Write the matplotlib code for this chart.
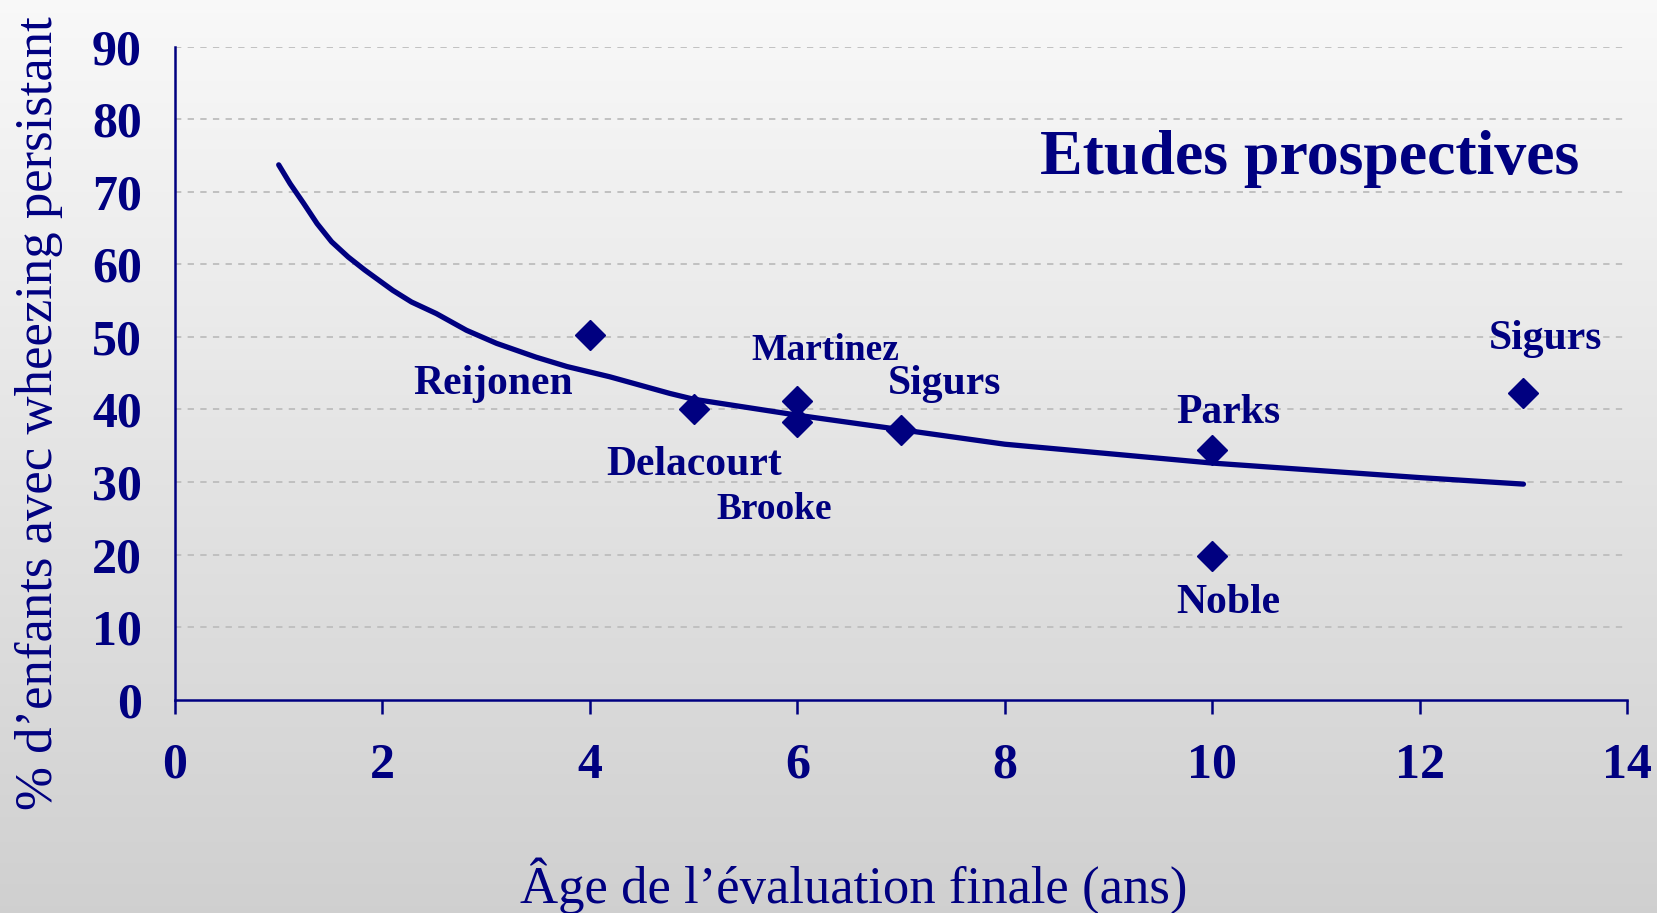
import numpy as np
import matplotlib
matplotlib.use("Agg")
import matplotlib.pyplot as plt

NAVY = "#000080"

# etudes (age of final evaluation, % persistent wheezing)
study_names = ["Reijonen", "Delacourt", "Martinez", "Brooke", "Sigurs", "Parks", "Noble", "Sigurs"]
study_age = [4, 5, 6, 6, 7, 10, 10, 13]
study_pct = [50.2, 40.0, 41.2, 38.2, 37.1, 34.4, 19.8, 42.2]

# label anchors (data coords) and font sizes
label_x = [3.07, 5.00, 6.27, 5.78, 7.42, 10.15, 10.15, 13.21]
label_y = [43.55, 32.35, 48.05, 26.15, 43.55, 39.45, 13.25, 49.75]
label_size = [30, 30, 27, 27, 30, 30, 30, 30]

# trend curve
trend_x = [1.0, 1.11, 1.24, 1.37, 1.51, 1.67, 1.83, 2.1, 2.28, 2.52, 2.81, 3.1,
           3.48, 3.78, 4.19, 4.77, 5, 6, 7, 8, 9, 10, 11, 12, 13]
trend_y = [73.7, 71.1, 68.4, 65.6, 63.1, 61.0, 59.2, 56.4, 54.8, 53.2, 50.9, 49.1,
           47.2, 45.9, 44.5, 42.2, 41.4, 39.2, 37.2, 35.2, 33.9, 32.6, 31.6, 30.6, 29.7]

x_ticks = [0, 2, 4, 6, 8, 10, 12, 14]
y_ticks = [0, 10, 20, 30, 40, 50, 60, 70, 80, 90]

plt.rcParams["font.family"] = ["Liberation Serif", "DejaVu Serif"]

fig = plt.figure(figsize=(16.57, 9.13), dpi=100)

#background gradient
bg = fig.add_axes([0, 0, 1, 1], zorder=0)
grad = np.linspace(0.975, 0.815, 256).reshape(-1, 1)
bg.imshow(np.dstack([grad, grad, grad]), aspect="auto", extent=[0, 1, 0, 1])
bg.axis("off")

ax = fig.add_axes([0.1056, 0.2337, 0.8764, 0.7153], zorder=1)
ax.patch.set_alpha(0)

ax.plot(trend_x, trend_y, color=NAVY, lw=3.8, solid_capstyle="round",
        solid_joinstyle="round", zorder=3)
ax.plot(study_age, study_pct, linestyle="none", marker="D", ms=15.5,
        color=NAVY, zorder=4)

for name, lx, ly, fs in zip(study_names, label_x, label_y, label_size):
    ax.text(lx, ly, name, ha="center", va="center", fontsize=fs,
            fontweight="bold", color=NAVY)

ax.text(10.94, 74.55, "Etudes prospectives", ha="center", va="center",
        fontsize=46, fontweight="bold", color=NAVY)

ax.set_xlim(0, 14)
ax.set_ylim(0, 90)
ax.set_xticks(x_ticks)
ax.set_yticks(y_ticks)
for y in y_ticks[1:]:
    ax.axhline(y, color="#bdbdbd", lw=1.3, linestyle=(0, (3.5, 3.5)), zorder=1)

for s in ["top", "right"]:
    ax.spines[s].set_visible(False)
for s in ["left", "bottom"]:
    ax.spines[s].set_color(NAVY)
    ax.spines[s].set_linewidth(1.8)

ax.tick_params(axis="x", direction="out", length=10, width=1.8, color=NAVY,
               pad=21, labelsize=36, labelcolor=NAVY)
ax.tick_params(axis="y", length=0, pad=24, labelsize=36, labelcolor=NAVY)
for lab in ax.get_xticklabels() + ax.get_yticklabels():
    lab.set_fontweight("bold")

fig.text(0.5155, 0.0295, "Âge de l’évaluation finale (ans)", ha="center",
         va="center", fontsize=38, color=NAVY)
fig.text(0.0235, 0.548, "% d’enfants avec wheezing persistant", ha="center",
         va="center", rotation=90, fontsize=38, color=NAVY)

plt.savefig("out.png", dpi=100)
